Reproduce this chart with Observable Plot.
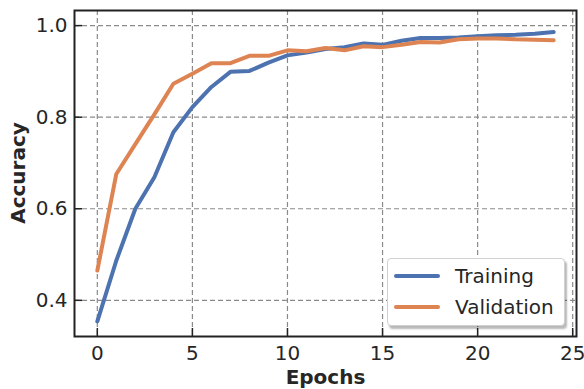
<!DOCTYPE html>
<html>
<head>
<meta charset="utf-8">
<script src="https://cdn.jsdelivr.net/npm/d3@7"></script>
<script src="https://cdn.jsdelivr.net/npm/@observablehq/plot@0.6"></script>
<style>
  html, body { margin: 0; padding: 0; background: #fff; }
  #wrap { position: relative; width: 584px; height: 389px; font-family: "DejaVu Sans", sans-serif; }
  #legend {
    position: absolute; left: 387px; top: 258px; width: 178px; height: 68px;
    background: #fff; border: 1px solid #d0d0d0; border-radius: 4px;
    box-shadow: 2px 3px 2px rgba(0,0,0,0.28); box-sizing: border-box;
  }
  .row { position: absolute; left: 0; height: 24px; display: flex; align-items: center; }
  .sw { width: 46px; height: 4px; border-radius: 2px; margin-left: 6px; }
  .lab { margin-left: 15px; font-size: 20px; color: #262626; line-height: 24px; }
  #ylab {
    position: absolute; left: 18px; top: 173px; font-size: 20px; font-weight: bold; color: #262626;
    line-height: 23px; white-space: nowrap; transform: translate(-50%, -50%) rotate(-90deg);
  }
</style>
</head>
<body>
<div id="wrap"></div>
<script>
const epochs = d3.range(0, 25);
const training = [0.354, 0.487, 0.600, 0.669, 0.767, 0.822, 0.866, 0.899, 0.901, 0.919, 0.935, 0.941, 0.949, 0.953, 0.961, 0.958, 0.967, 0.973, 0.973, 0.974, 0.977, 0.979, 0.980, 0.982, 0.986];
const validation = [0.465, 0.676, 0.741, 0.806, 0.873, 0.895, 0.918, 0.918, 0.934, 0.934, 0.946, 0.944, 0.951, 0.946, 0.955, 0.953, 0.958, 0.964, 0.963, 0.970, 0.972, 0.972, 0.970, 0.969, 0.968];
const seriesNames = ["Training", "Validation"];
const seriesColors = ["#4c72b0", "#dd8452"];
const xTicks = [0, 5, 10, 15, 20, 25];
const yTicks = [0.4, 0.6, 0.8, 1.0];
const xTitle = "Epochs";
const yTitle = "Accuracy";

const rows = [];
epochs.forEach((e, i) => {
  rows.push({epoch: e, acc: training[i], series: seriesNames[0]});
  rows.push({epoch: e, acc: validation[i], series: seriesNames[1]});
});

const chart = Plot.plot({
  width: 584,
  height: 389,
  marginLeft: 74,
  marginRight: 8,
  marginTop: 10,
  marginBottom: 53,
  style: {fontFamily: "DejaVu Sans, sans-serif", fontSize: "20px", color: "#262626", background: "#fff"},
  x: {domain: [-1.2, 25.2], label: null},
  y: {domain: [0.321, 1.033], label: null},
  color: {domain: seriesNames, range: seriesColors},
  marks: [
    Plot.gridX(xTicks, {stroke: "#8a8a8a", strokeOpacity: 1, strokeWidth: 1.2, strokeDasharray: "5,3"}),
    Plot.gridY(yTicks, {stroke: "#8a8a8a", strokeOpacity: 1, strokeWidth: 1.2, strokeDasharray: "5,3"}),
    Plot.line(rows, {x: "epoch", y: "acc", z: "series", stroke: "series", strokeWidth: 4, strokeLinejoin: "round", strokeLinecap: "round"}),
    Plot.axisX(xTicks, {tickSize: 0, tickPadding: 9, tickFormat: d => String(d), fontSize: 20, label: null}),
    Plot.axisY(yTicks, {tickSize: 0, tickPadding: 7, tickFormat: d => d.toFixed(1), fontSize: 20, label: null}),
    Plot.axisX(xTicks, {tickSize: 8, dy: -8, tickFormat: () => "", stroke: "#222", strokeWidth: 1.5, label: null}),
    Plot.axisY(yTicks, {tickSize: 8, dx: 8, tickFormat: () => "", stroke: "#222", strokeWidth: 1.5, label: null}),
    Plot.frame({stroke: "#222", strokeWidth: 2}),
    Plot.text([xTitle], {frameAnchor: "bottom", lineAnchor: "bottom", dy: 47, fontWeight: "bold", fontSize: 20, fill: "#262626"})
  ]
});

const wrap = document.getElementById("wrap");
wrap.appendChild(chart);

const ylab = document.createElement("div");
ylab.id = "ylab";
ylab.textContent = yTitle;
wrap.appendChild(ylab);

const legend = document.createElement("div");
legend.id = "legend";
seriesNames.forEach((name, i) => {
  const row = document.createElement("div");
  row.className = "row";
  row.style.top = (5 + i * 31) + "px";
  const sw = document.createElement("div");
  sw.className = "sw";
  sw.style.background = seriesColors[i];
  const lab = document.createElement("span");
  lab.className = "lab";
  lab.textContent = name;
  row.appendChild(sw);
  row.appendChild(lab);
  legend.appendChild(row);
});
wrap.appendChild(legend);
</script>
</body>
</html>
